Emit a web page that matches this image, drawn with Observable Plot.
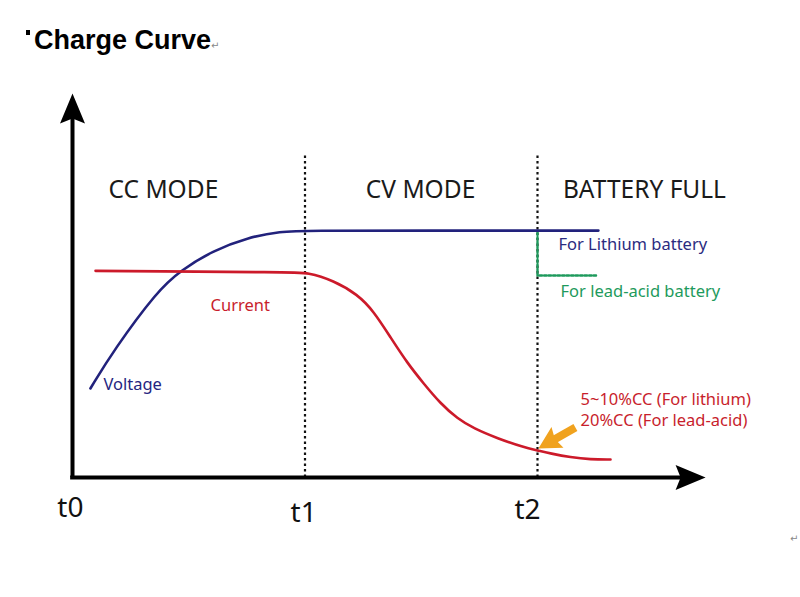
<!DOCTYPE html>
<html><head><meta charset="utf-8">
<script src="https://cdn.jsdelivr.net/npm/d3@7"></script>
<script src="https://cdn.jsdelivr.net/npm/@observablehq/plot@0.6"></script>
<style>
body{margin:0;background:#fff;}
#wrap{position:relative;width:800px;height:597px;overflow:hidden;}
#title{position:absolute;left:26px;top:25px;font:bold 27px "Liberation Sans",Arial,sans-serif;color:#000;white-space:nowrap;z-index:2;}
#title .b{display:inline-block;width:4px;height:5px;background:#000;vertical-align:top;margin-top:5px;margin-right:4px;}
#title .r{font:normal 10px "DejaVu Sans",sans-serif;color:#888;}
#mark{position:absolute;left:790px;top:533px;font:normal 10px "DejaVu Sans",sans-serif;color:#888;z-index:2;}
#wrap svg{position:absolute;left:0;top:0;}
</style></head><body>
<div id="wrap"><div id="title"><span class="b"></span>Charge Curve<span class="r">↵</span></div><div id="mark">↵</div></div>
<script>
// Time axis: t0 = 0, t1 = 1, t2 = 2 ; level axis 0..100 (arbitrary units)
const voltageT = [0.077, 0.176, 0.366, 0.465, 0.606, 0.753, 0.895, 1.011, 1.5, 2.262];
const voltageV = [23.0, 32.8, 48.3, 53.5, 58.7, 62.0, 63.6, 63.8, 63.8, 63.8];

const currentT = [0.099, 0.938, 1.011, 1.123, 1.226, 1.295, 1.368, 1.441, 1.510, 1.583, 1.656, 1.725, 1.828, 1.940, 2.0, 2.056, 2.142, 2.228, 2.314];
const currentV = [53.4, 53.0, 53.0, 50.9, 47.3, 43.0, 36.2, 29.5, 24.3, 19.1, 15.2, 12.7, 10.1, 7.8, 7.0, 6.2, 5.2, 4.65, 4.65];

const leadAcidT = [2.0, 2.0, 2.258];
const leadAcidV = [63.3, 52.2, 52.2];

const phaseT = [1, 2];
const phaseTop = 83.2;

const modeLabels = ["CC MODE", "CV MODE", "BATTERY FULL"];
const modeT = [0.391, 1.497, 2.46];
const modeV = 74.2;

const tickLabels = ["t0", "t1", "t2"];
const tickT = [-0.009, 0.994, 1.957];
const tickV = [-8.0, -9.3, -8.5];

const axisEndT = 2.723;
const axisEndV = 99.2;

const notes = [
  {text: "Voltage", t: 0.133, v: 24.3, color: "#25257f"},
  {text: "Current", t: 0.594, v: 44.7, color: "#c81e2c"},
  {text: "For Lithium battery", t: 2.09, v: 60.5, color: "#2b2b80"},
  {text: "For lead-acid battery", t: 2.099, v: 48.3, color: "#1e9a5c"},
  {text: "5~10%CC (For lithium)\n20%CC (For lead-acid)", t: 2.185, v: 17.8, color: "#c81e2c"}
];

const pointerTail = {t: 2.163, v: 12.9};
const pointerTip = {t: 2.004, v: 7.5};

const voltage = voltageT.map((t, i) => ({t, v: voltageV[i]}));
const current = currentT.map((t, i) => ({t, v: currentV[i]}));
const leadAcid = leadAcidT.map((t, i) => ({t, v: leadAcidV[i]}));

// filled, notched arrowhead pointing up, tip at origin
function headSymbol(w, L, n) {
  return {
    draw(ctx, size) {
      const s = Math.sqrt(size / Math.PI) / 10;
      ctx.moveTo(0, 0);
      ctx.lineTo(-w / 2 * s, L * s);
      ctx.lineTo(0, (L - n) * s);
      ctx.lineTo(w / 2 * s, L * s);
      ctx.closePath();
    }
  };
}
const axisHead = headSymbol(25, 30, 5);
const pointerHead = headSymbol(24, 22, 3);

const font = "'Noto Sans', 'Open Sans', sans-serif";
const xr = [0, 2.75];
const pxPerT = 232.5;
const marginLeft = 72;

const chart = Plot.plot({
  width: 800,
  height: 597,
  marginLeft,
  marginRight: 800 - marginLeft - (xr[1] - xr[0]) * pxPerT,
  marginTop: 90,
  marginBottom: 120,
  x: {domain: xr, axis: null},
  y: {domain: [0, 100], axis: null},
  style: {background: "transparent", fontFamily: font, overflow: "visible"},
  marks: [
    // phase boundaries
    Plot.ruleX(phaseT, {x: d => d, y1: 0, y2: phaseTop, stroke: "#111", strokeWidth: 2.2, strokeDasharray: "2.5,3"}),
    // lead-acid level
    Plot.line(leadAcid, {x: "t", y: "v", stroke: "#1e9a5c", strokeWidth: 2.4, strokeDasharray: "2.5,2"}),
    // curves
    Plot.line(voltage, {x: "t", y: "v", curve: "basis", stroke: "#22227c", strokeWidth: 2.6}),
    Plot.line(current, {x: "t", y: "v", curve: "basis", stroke: "#cc1a2a", strokeWidth: 2.6}),
    // axes with arrowheads
    Plot.ruleX([0], {x: d => d, y1: 0, y2: axisEndV - 6, stroke: "#000", strokeWidth: 4}),
    Plot.ruleY([0], {y: d => d, x1: -0.008, x2: axisEndT - 0.08, stroke: "#000", strokeWidth: 4}),
    Plot.dot([0], {x: d => d, y: axisEndV, symbol: axisHead, r: 10, fill: "#000", stroke: "none"}),
    Plot.dot([0], {x: axisEndT, y: d => d, symbol: axisHead, r: 10, fill: "#000", stroke: "none", rotate: 90}),
    // orange pointer
    Plot.link([pointerTail], {
      x1: "t", y1: "v",
      x2: d => pointerTip.t + (d.t - pointerTip.t) * 0.3,
      y2: d => pointerTip.v + (d.v - pointerTip.v) * 0.3,
      stroke: "#f0a21e", strokeWidth: 8
    }),
    Plot.dot([pointerTip], {x: "t", y: "v", symbol: pointerHead, r: 10, fill: "#f0a21e", stroke: "none", rotate: 240}),
    // mode labels
    Plot.text(modeLabels, {x: (d, i) => modeT[i], y: modeV, text: d => d, fontSize: 24.5, fill: "#1a1a1a", textAnchor: "middle"}),
    // tick labels
    Plot.text(tickLabels, {x: (d, i) => tickT[i], y: (d, i) => tickV[i], text: d => d, fontSize: 28, fill: "#111", textAnchor: "middle"}),
    // notes
    Plot.text(notes, {x: "t", y: "v", text: "text", fill: "color", fontSize: 16.5, lineHeight: 1.28, textAnchor: "start"})
  ]
});
document.getElementById("wrap").appendChild(chart);
</script>
</body></html>
